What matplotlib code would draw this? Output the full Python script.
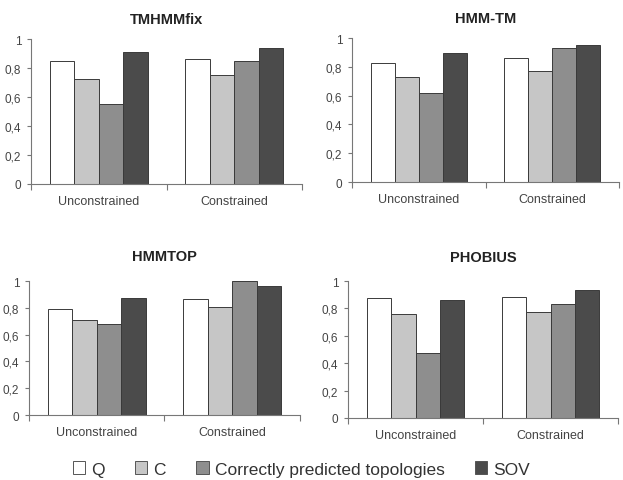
import matplotlib
matplotlib.use("Agg")
import matplotlib.pyplot as plt
from matplotlib.patches import Patch
import numpy as np

plt.rcParams['font.family'] = ['Liberation Sans', 'DejaVu Sans']

categories = ["Unconstrained", "Constrained"]
series = ["Q", "C", "Correctly predicted topologies", "SOV"]
titles = ["TMHMMfix", "HMM-TM", "HMMTOP", "PHOBIUS"]

tmhmmfix = {"Q": [0.848, 0.862], "C": [0.724, 0.752],
            "Correctly predicted topologies": [0.554, 0.848], "SOV": [0.908, 0.936]}
hmmtm = {"Q": [0.824, 0.864], "C": [0.730, 0.771],
         "Correctly predicted topologies": [0.619, 0.933], "SOV": [0.896, 0.954]}
hmmtop = {"Q": [0.789, 0.864], "C": [0.710, 0.804],
          "Correctly predicted topologies": [0.682, 1.0], "SOV": [0.873, 0.965]}
phobius = {"Q": [0.876, 0.886], "C": [0.762, 0.777],
           "Correctly predicted topologies": [0.473, 0.830], "SOV": [0.864, 0.934]}
yticks = [0, 0.2, 0.4, 0.6, 0.8, 1]
ytick_labels = ["0", "0,2", "0,4", "0,6", "0,8", "1"]

colors = ["#ffffff", "#c6c6c6", "#8e8e8e", "#4b4b4b"]
datasets = [tmhmmfix, hmmtm, hmmtop, phobius]

fig = plt.figure(figsize=(6.23, 4.81), dpi=100)
positions = [
    [0.0498, 0.6154, 0.435, 0.3014],
    [0.565, 0.6195, 0.4286, 0.2994],
    [0.0465, 0.1351, 0.435, 0.2786],
    [0.5586, 0.1289, 0.4334, 0.2848],
]
title_y = [20, 19, 257, 258]

bw = 0.18
for data, title, pos, ty in zip(datasets, titles, positions, title_y):
    ax = fig.add_axes(pos)
    x = np.arange(len(categories))
    for i, s in enumerate(series):
        ax.bar(x + (i - 1.5) * bw, data[s], width=bw, color=colors[i],
               edgecolor="#3a3a3a", linewidth=0.7)
    ax.set_xlim(-0.5, 1.5)
    ax.set_ylim(0, 1)
    ax.set_yticks(yticks)
    ax.set_yticklabels(ytick_labels)
    ax.set_xticks([-0.5, 0.5, 1.5])
    ax.set_xticklabels([])
    ax.set_xticks(x, minor=True)
    ax.set_xticklabels(categories, minor=True)
    ax.tick_params(axis='x', which='minor', length=0, pad=8, labelsize=9, labelcolor="#444444")
    ax.tick_params(axis='x', which='major', length=4, direction='out', color="#777777")
    ax.tick_params(axis='y', length=3, direction='out', color="#777777", labelsize=8.5,
                   labelcolor="#444444", pad=4)
    for sp in ["top", "right"]:
        ax.spines[sp].set_visible(False)
    for sp in ["left", "bottom"]:
        ax.spines[sp].set_color("#777777")
        ax.spines[sp].set_linewidth(0.8)
    cx = pos[0] + pos[2] / 2
    fig.text(cx, 1 - ty / 481, title, ha="center", va="center", fontsize=10.5,
             fontweight="bold", color="#222222")

handles = [Patch(facecolor=c, edgecolor="#555555", linewidth=0.7) for c in colors]
fig.legend(handles, series, loc="center", bbox_to_anchor=(0.484, 1 - 470 / 481), ncol=4,
           frameon=False, fontsize=12.5, handlelength=0.7, handleheight=0.7,
           handletextpad=0.35, columnspacing=1.75, labelcolor="#333333")

fig.savefig("out.png", dpi=100)
